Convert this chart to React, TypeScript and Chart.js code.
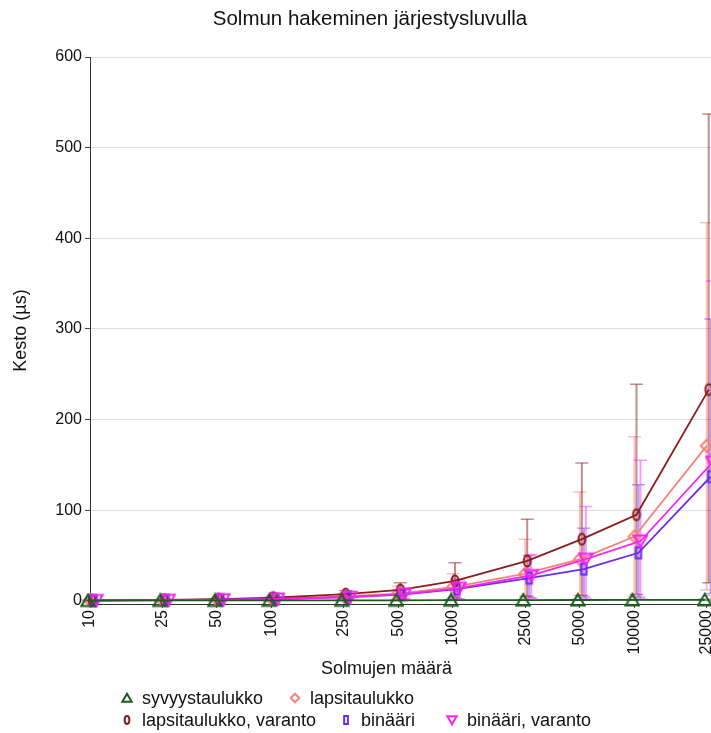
import React, { useEffect, useRef } from 'react';
import { Chart, registerables } from 'chart.js';

Chart.register(...registerables);

const FONT = '"Liberation Sans", Arial, sans-serif';
const TITLE = 'Solmun hakeminen järjestysluvulla';
const X_TITLE = 'Solmujen määrä';
const Y_TITLE = 'Kesto (µs)';

// x categories (number of nodes) and y tick values
const SIZES = [10, 25, 50, 100, 250, 500, 1000, 2500, 5000, 10000, 25000];
const Y_TICKS = [0, 100, 200, 300, 400, 500, 600];

const SERIES_NAMES = [
  'syvyystaulukko',
  'lapsitaulukko',
  'lapsitaulukko, varanto',
  'binääri',
  'binääri, varanto',
];

// syvyystaulukko
const SYV_MEAN = [0.3, 0.4, 0.4, 0.5, 0.5, 0.6, 0.7, 0.8, 0.9, 1.0, 1.1];
const SYV_LOW = [0.1, 0.2, 0.2, 0.3, 0.3, 0.3, 0.4, 0.5, 0.5, 0.6, 0.6];
const SYV_HIGH = [0.5, 0.6, 0.7, 0.8, 0.8, 0.9, 1.1, 1.2, 1.4, 1.5, 1.7];

// lapsitaulukko
const LAPSI_MEAN = [0.4, 0.8, 1.3, 2.5, 5, 8, 15, 30, 46, 71, 171];
const LAPSI_LOW = [0.2, 0.4, 0.6, 1, 2, 3, 3, 5, 6, 5, 12];
const LAPSI_HIGH = [0.6, 1.2, 2, 4, 8, 16, 30, 68, 120, 181, 417];

// lapsitaulukko, varanto
const LAPSIV_MEAN = [0.5, 1, 1.8, 3.5, 7.5, 12, 22, 44, 68, 95, 233];
const LAPSIV_LOW = [0.2, 0.5, 0.8, 1.5, 3, 5, 4, 5, 6, 7, 20];
const LAPSIV_HIGH = [0.8, 1.6, 3, 6, 11, 20, 42, 90, 152, 239, 537];

// binääri
const BIN_MEAN = [0.4, 0.7, 1.2, 2, 4, 7, 13, 25, 35, 53, 137];
const BIN_LOW = [0.2, 0.4, 0.6, 1, 2, 2, 2, 3, 4, 4, 8];
const BIN_HIGH = [0.6, 1, 1.8, 3, 6, 12, 24, 50, 80, 128, 311];

// binääri, varanto
const BINV_MEAN = [0.4, 0.7, 1.2, 2, 4, 7.5, 14, 28, 46, 66, 153];
const BINV_LOW = [0.2, 0.4, 0.6, 1, 2, 2, 2, 3, 2, 2, 6];
const BINV_HIGH = [0.6, 1, 1.8, 3, 6, 13, 23, 51, 104, 155, 353];

const MEANS = [SYV_MEAN, LAPSI_MEAN, LAPSIV_MEAN, BIN_MEAN, BINV_MEAN];
const LOWS = [SYV_LOW, LAPSI_LOW, LAPSIV_LOW, BIN_LOW, BINV_LOW];
const HIGHS = [SYV_HIGH, LAPSI_HIGH, LAPSIV_HIGH, BIN_HIGH, BINV_HIGH];

// styles
const COLORS = ['#1e5b1e', '#f5837c', '#8b1c1c', '#6b2bf5', '#fb22f0'];
const ERR_COLORS = [
  'rgba(30,91,30,0.5)',
  'rgba(245,131,124,0.5)',
  'rgba(139,28,28,0.5)',
  'rgba(107,43,245,0.45)',
  'rgba(251,34,240,0.45)',
];
const MARKERS = ['triangle', 'diamond', 'oval', 'bar', 'downTriangle'];
const DODGE_PX = [-2, 0, 2, 4, 6];
const DRAW_ORDER = [0, 4, 3, 2, 1];
const LEGEND_ROWS = [
  { y: 698, items: [0, 1], xs: [127, 295] },
  { y: 720, items: [2, 3, 4], xs: [127, 346, 452] },
];

function drawMarker(ctx, kind, cx, cy, s, color, lw) {
  ctx.save();
  ctx.strokeStyle = color;
  ctx.lineWidth = lw;
  ctx.lineJoin = 'miter';
  ctx.beginPath();
  if (kind === 'triangle') {
    ctx.moveTo(cx, cy - s * 0.5);
    ctx.lineTo(cx + s * 0.55, cy + s * 0.45);
    ctx.lineTo(cx - s * 0.55, cy + s * 0.45);
    ctx.closePath();
  } else if (kind === 'downTriangle') {
    ctx.moveTo(cx, cy + s * 0.5);
    ctx.lineTo(cx + s * 0.55, cy - s * 0.45);
    ctx.lineTo(cx - s * 0.55, cy - s * 0.45);
    ctx.closePath();
  } else if (kind === 'diamond') {
    ctx.moveTo(cx, cy - s * 0.5);
    ctx.lineTo(cx + s * 0.5, cy);
    ctx.lineTo(cx, cy + s * 0.5);
    ctx.lineTo(cx - s * 0.5, cy);
    ctx.closePath();
  } else if (kind === 'oval') {
    ctx.ellipse(cx, cy, s * 0.28, s * 0.46, 0, 0, Math.PI * 2);
  } else {
    ctx.rect(cx - s * 0.22, cy - s * 0.46, s * 0.44, s * 0.92);
  }
  ctx.stroke();
  ctx.restore();
}

function makeMarker(kind, color, size, lw) {
  const c = document.createElement('canvas');
  c.width = size + 4;
  c.height = size + 4;
  const ctx = c.getContext('2d');
  drawMarker(ctx, kind, c.width / 2, c.height / 2, size, color, lw);
  return c;
}

const dodgePlugin = {
  id: 'dodge',
  afterDatasetsUpdate(chart) {
    chart.data.datasets.forEach((ds, i) => {
      const meta = chart.getDatasetMeta(i);
      meta.data.forEach((el) => {
        el.x += DODGE_PX[i];
      });
    });
  },
};

const errorBarPlugin = {
  id: 'errorBars',
  beforeDatasetsDraw(chart) {
    const ctx = chart.ctx;
    const yScale = chart.scales.y;
    ctx.save();
    chart.data.datasets.forEach((ds, i) => {
      const meta = chart.getDatasetMeta(i);
      ctx.strokeStyle = ERR_COLORS[i];
      meta.data.forEach((el, j) => {
        const x = el.x;
        const yl = yScale.getPixelForValue(LOWS[i][j]);
        const yh = yScale.getPixelForValue(HIGHS[i][j]);
        ctx.lineWidth = 2;
        ctx.beginPath();
        ctx.moveTo(x, yl);
        ctx.lineTo(x, yh);
        ctx.stroke();
        ctx.lineWidth = 1.5;
        ctx.beginPath();
        ctx.moveTo(x - 6.5, yl);
        ctx.lineTo(x + 6.5, yl);
        ctx.moveTo(x - 6.5, yh);
        ctx.lineTo(x + 6.5, yh);
        ctx.stroke();
      });
    });
    ctx.restore();
  },
};

const textPlugin = {
  id: 'texts',
  afterDraw(chart) {
    const ctx = chart.ctx;
    const ca = chart.chartArea;
    ctx.save();
    ctx.fillStyle = '#111';
    ctx.textAlign = 'center';
    ctx.textBaseline = 'middle';
    ctx.font = `20.5px ${FONT}`;
    ctx.fillText(TITLE, 370, 19);
    ctx.font = `18px ${FONT}`;
    ctx.fillText(X_TITLE, (ca.left + ca.right) / 2 - 14, 669);
    ctx.save();
    ctx.translate(21, (ca.top + ca.bottom) / 2);
    ctx.rotate(-Math.PI / 2);
    ctx.fillText(Y_TITLE, 0, 0);
    ctx.restore();
    ctx.textAlign = 'left';
    LEGEND_ROWS.forEach((row) => {
      row.items.forEach((idx, k) => {
        const mx = row.xs[k];
        drawMarker(ctx, MARKERS[idx], mx, row.y, 8.5, COLORS[idx], 2);
        ctx.fillStyle = '#111';
        ctx.fillText(SERIES_NAMES[idx], mx + 15, row.y + 1);
      });
    });
    ctx.restore();
  },
};

export default function App() {
  const ref = useRef(null);
  useEffect(() => {
    const canvas = ref.current;
    if (!canvas) return;
    const datasets = SERIES_NAMES.map((name, i) => ({
      label: name,
      data: SIZES.map((n, j) => ({ x: n, y: MEANS[i][j] })),
      borderColor: COLORS[i],
      backgroundColor: COLORS[i],
      borderWidth: 1.8,
      pointStyle: makeMarker(MARKERS[i], COLORS[i], 12, 2),
      pointRadius: 6,
      clip: false,
      order: DRAW_ORDER[i],
      tension: 0,
    }));
    const chart = new Chart(canvas, {
      type: 'line',
      data: { datasets },
      plugins: [dodgePlugin, errorBarPlugin, textPlugin],
      options: {
        responsive: false,
        animation: false,
        events: [],
        layout: { autoPadding: false, padding: { top: 57, left: 0, right: 0, bottom: 0 } },
        plugins: {
          legend: { display: false },
          tooltip: { enabled: false },
          title: { display: false },
        },
        scales: {
          x: {
            type: 'logarithmic',
            min: 10,
            max: 26400,
            afterBuildTicks: (scale) => {
              scale.ticks = SIZES.map((v) => ({ value: v }));
            },
            afterFit: (scale) => {
              scale.height = 129;
              scale.paddingLeft = 0;
              scale.paddingRight = 0;
            },
            grid: {
              display: true,
              drawOnChartArea: false,
              drawTicks: true,
              tickLength: 4,
              tickColor: '#444',
            },
            border: { display: true, color: '#333', width: 1 },
            ticks: {
              autoSkip: false,
              minRotation: 90,
              maxRotation: 90,
              padding: 2,
              color: '#111',
              font: { family: FONT, size: 16 },
              callback: (v) => String(v),
            },
          },
          y: {
            type: 'linear',
            min: -3.5,
            max: 600,
            afterBuildTicks: (scale) => {
              scale.ticks = Y_TICKS.map((v) => ({ value: v }));
            },
            afterFit: (scale) => {
              scale.width = 90;
              scale.paddingTop = 0;
              scale.paddingBottom = 0;
            },
            grid: {
              color: '#dddddd',
              lineWidth: 1,
              tickColor: '#444',
              tickLength: 5,
            },
            border: { display: true, color: '#333', width: 1 },
            ticks: {
              padding: 3,
              color: '#111',
              font: { family: FONT, size: 16 },
              callback: (v) => String(v),
            },
          },
        },
      },
    });
    return () => chart.destroy();
  }, []);
  return (
    <div style={{ position: 'fixed', left: 0, top: 0, width: 711, height: 733, background: '#fff' }}>
      <canvas ref={ref} width={711} height={733} style={{ display: 'block' }} />
    </div>
  );
}
